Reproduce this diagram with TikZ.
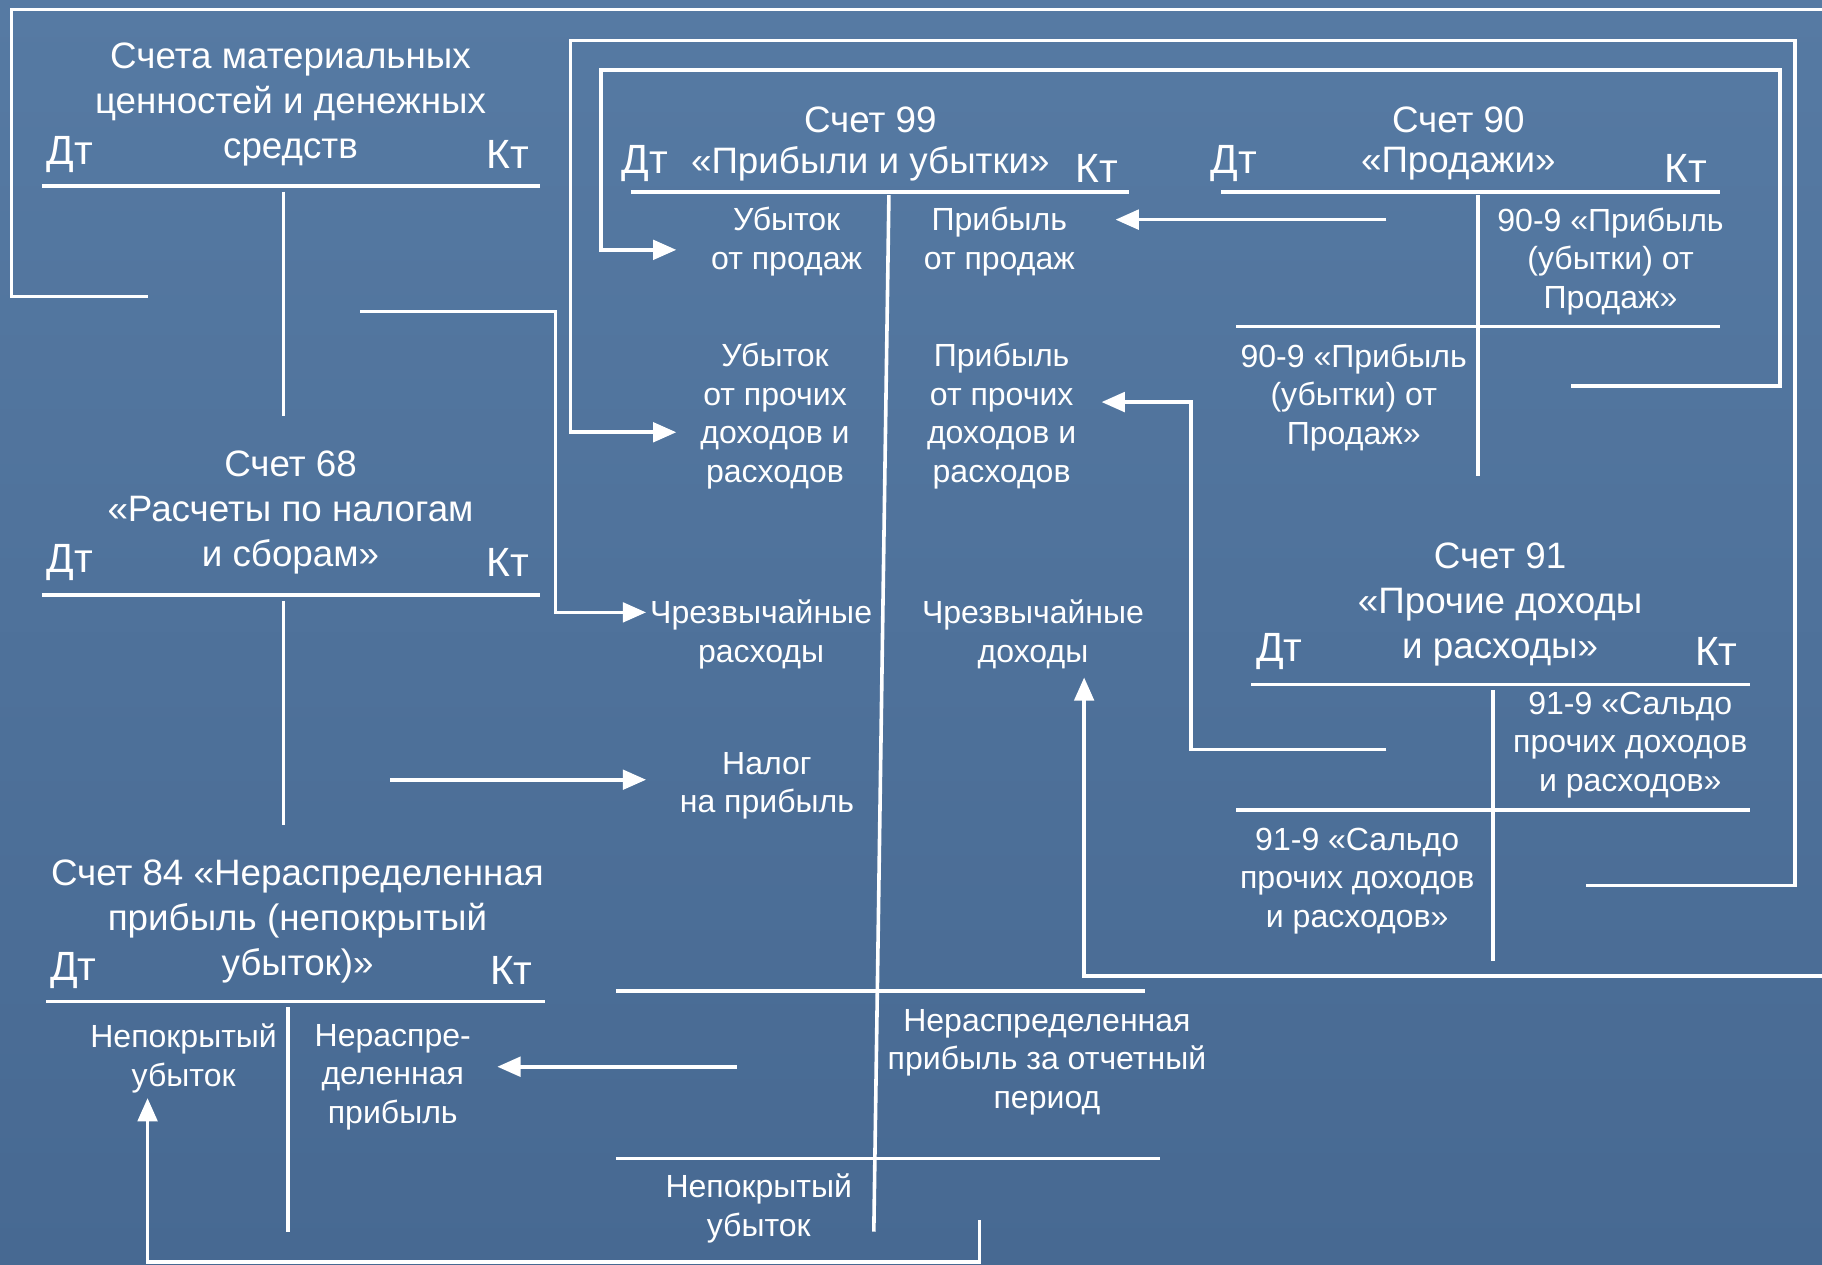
\documentclass[tikz,border=0pt]{standalone}
\usepackage{fontspec}
\setmainfont{Liberation Sans}
\usetikzlibrary{arrows.meta}
\definecolor{bgtop}{RGB}{86,122,163}
\definecolor{bgbot}{RGB}{71,105,146}
\begin{document}
\begin{tikzpicture}[x=0.025cm,y=-0.025cm,
  ln/.style={white,line width=2.2pt},
  arr/.style={ln,-{Triangle[length=0.5cm,width=0.42cm]}},
  hd/.style={text=white,font=\fontsize{22.5}{27.6}\selectfont,align=center,inner sep=0pt},
  dk/.style={text=white,font=\fontsize{25}{30}\selectfont,inner sep=0pt},
  tx/.style={text=white,font=\fontsize{19.6}{23.5}\selectfont,align=center,inner sep=0pt}]
\fill[top color=bgtop,bottom color=bgbot] (0,0) rectangle (1568,1088);
\useasboundingbox (0,0) rectangle (1568,1088);

\begin{scope}[shift={(0,3)}]
% ---------- Account: material values ----------
\node[hd] (matH) at (250,87) {Счета материальных\\ценностей и денежных\\средств};
\node[dk] (matD) at (60,130) {Дт};
\node[dk] (matK) at (437,130) {Кт};

% ---------- Account 68 ----------
\node[hd] (s68) at (250,438) {Счет 68\\«Расчеты по налогам\\и сборам»};
\node[dk] (s68D) at (60,481) {Дт};
\node[dk] (s68K) at (437,481) {Кт};

% ---------- Account 84 ----------
\node[hd] (s84) at (256,790) {Счет 84 «Нераспределенная\\прибыль (непокрытый\\убыток)»};
\node[dk] (s84D) at (63,832) {Дт};
\node[dk] (s84K) at (440,832) {Кт};
\node[tx] (s84a) at (158,908) {Непокрытый\\убыток};
\node[tx] (s84b) at (338,924) {Нераспре-\\деленная\\прибыль};

% ---------- Account 99 ----------
\node[hd] (s99) at (749,100) {Счет 99};
\node[hd] (s99n) at (749,138) {«Прибыли и убытки»};
\node[dk] (s99D) at (555,138) {Дт};
\node[dk] (s99K) at (944,142) {Кт};
\node[tx] (ub1) at (677,205) {Убыток\\от продаж};
\node[tx] (pr1) at (860,205) {Прибыль\\от продаж};
\node[tx] (ub2) at (667,355) {Убыток\\от прочих\\доходов и\\расходов};
\node[tx] (pr2) at (862,355) {Прибыль\\от прочих\\доходов и\\расходов};
\node[tx] (ub3) at (655,543) {Чрезвычайные\\расходы};
\node[tx] (pr3) at (889,543) {Чрезвычайные\\доходы};
\node[tx] (tax) at (660,673) {Налог\\на прибыль};
\node[tx] (nrp) at (901,911) {Нераспределенная\\прибыль за отчетный\\период};
\node[tx] (nu) at (653,1037) {Непокрытый\\убыток};

% ---------- Account 90 ----------
\node[hd] (s90) at (1255,100) {Счет 90};
\node[hd] (s90n) at (1255,138) {«Продажи»};
\node[dk] (s90D) at (1062,138) {Дт};
\node[dk] (s90K) at (1451,142) {Кт};
\node[tx] (s90a) at (1386,222) {90-9 «Прибыль\\(убытки) от\\Продаж»};
\node[tx] (s90b) at (1165,339) {90-9 «Прибыль\\(убытки) от\\Продаж»};

% ---------- Account 91 ----------
\node[hd] (s91) at (1291,517) {Счет 91\\«Прочие доходы\\и расходы»};
\node[dk] (s91D) at (1101,558) {Дт};
\node[dk] (s91K) at (1477,558) {Кт};
\node[tx] (s91a) at (1403,638) {91-9 «Сальдо\\прочих доходов\\и расходов»};
\node[tx] (s91b) at (1168,755) {91-9 «Сальдо\\прочих доходов\\и расходов»};
\end{scope}

% ---------- T-account rules ----------
\draw[ln] (36,160) -- (465,160);
\draw[ln] (244,165) -- (244,358);
\draw[ln] (36,512) -- (465,512);
\draw[ln] (244,517) -- (244,710);
\draw[ln] (40,862) -- (469,862);
\draw[ln] (248,867) -- (248,1060);
\draw[ln] (543,165) -- (972,165);
\draw[ln] (765,168) -- (752,1060);
\draw[ln] (530,853) -- (985,853);
\draw[ln] (530,997) -- (998,997);
\draw[ln] (1051,165) -- (1480,165);
\draw[ln] (1272,168) -- (1272,410);
\draw[ln] (1064,281) -- (1480,281);
\draw[ln] (1077,589) -- (1506,589);
\draw[ln] (1285,594) -- (1285,827);
\draw[ln] (1064,697) -- (1506,697);

% ---------- connector end points ----------
\coordinate (c1s) at (127,255);
\coordinate (c1e) at (1568,8);
\coordinate (c1r) at (1568,840);
\coordinate (c1t) at (933,583);
\coordinate (c2s) at (1365,762);
\coordinate (c2t) at (582,372);
\coordinate (c3s) at (1352,332);
\coordinate (c3t) at (582,215);
\coordinate (c4s) at (1193,189);
\coordinate (c4t) at (960,189);
\coordinate (c5s) at (1193,645);
\coordinate (c5t) at (948,346);
\coordinate (c6s) at (310,268);
\coordinate (c6t) at (556,527);
\coordinate (c7s) at (336,671);
\coordinate (c7t) at (556,671);
\coordinate (c8s) at (634,918);
\coordinate (c8t) at (428,918);
\coordinate (c9s) at (843,1050);
\coordinate (c9t) at (127,945);

% ---------- connectors ----------
\draw[ln] (c1s) -- (10,255) -- (10,8) -- (c1e);
\draw[arr] (c1r) -| (c1t);
\draw[arr] (c2s) -- (1545,762) -- (1545,35) -- (491,35) |- (c2t);
\draw[arr] (c3s) -- (1532,332) -- (1532,60) -- (517,60) |- (c3t);
\draw[arr] (c4s) -- (c4t);
\draw[arr] (c5s) -- (1025,645) |- (c5t);
\draw[arr] (c6s) -- (478,268) |- (c6t);
\draw[arr] (c7s) -- (c7t);
\draw[arr] (c8s) -- (c8t);
\draw[arr] (c9s) -- (843,1086) -| (c9t);
\end{tikzpicture}
\end{document}
